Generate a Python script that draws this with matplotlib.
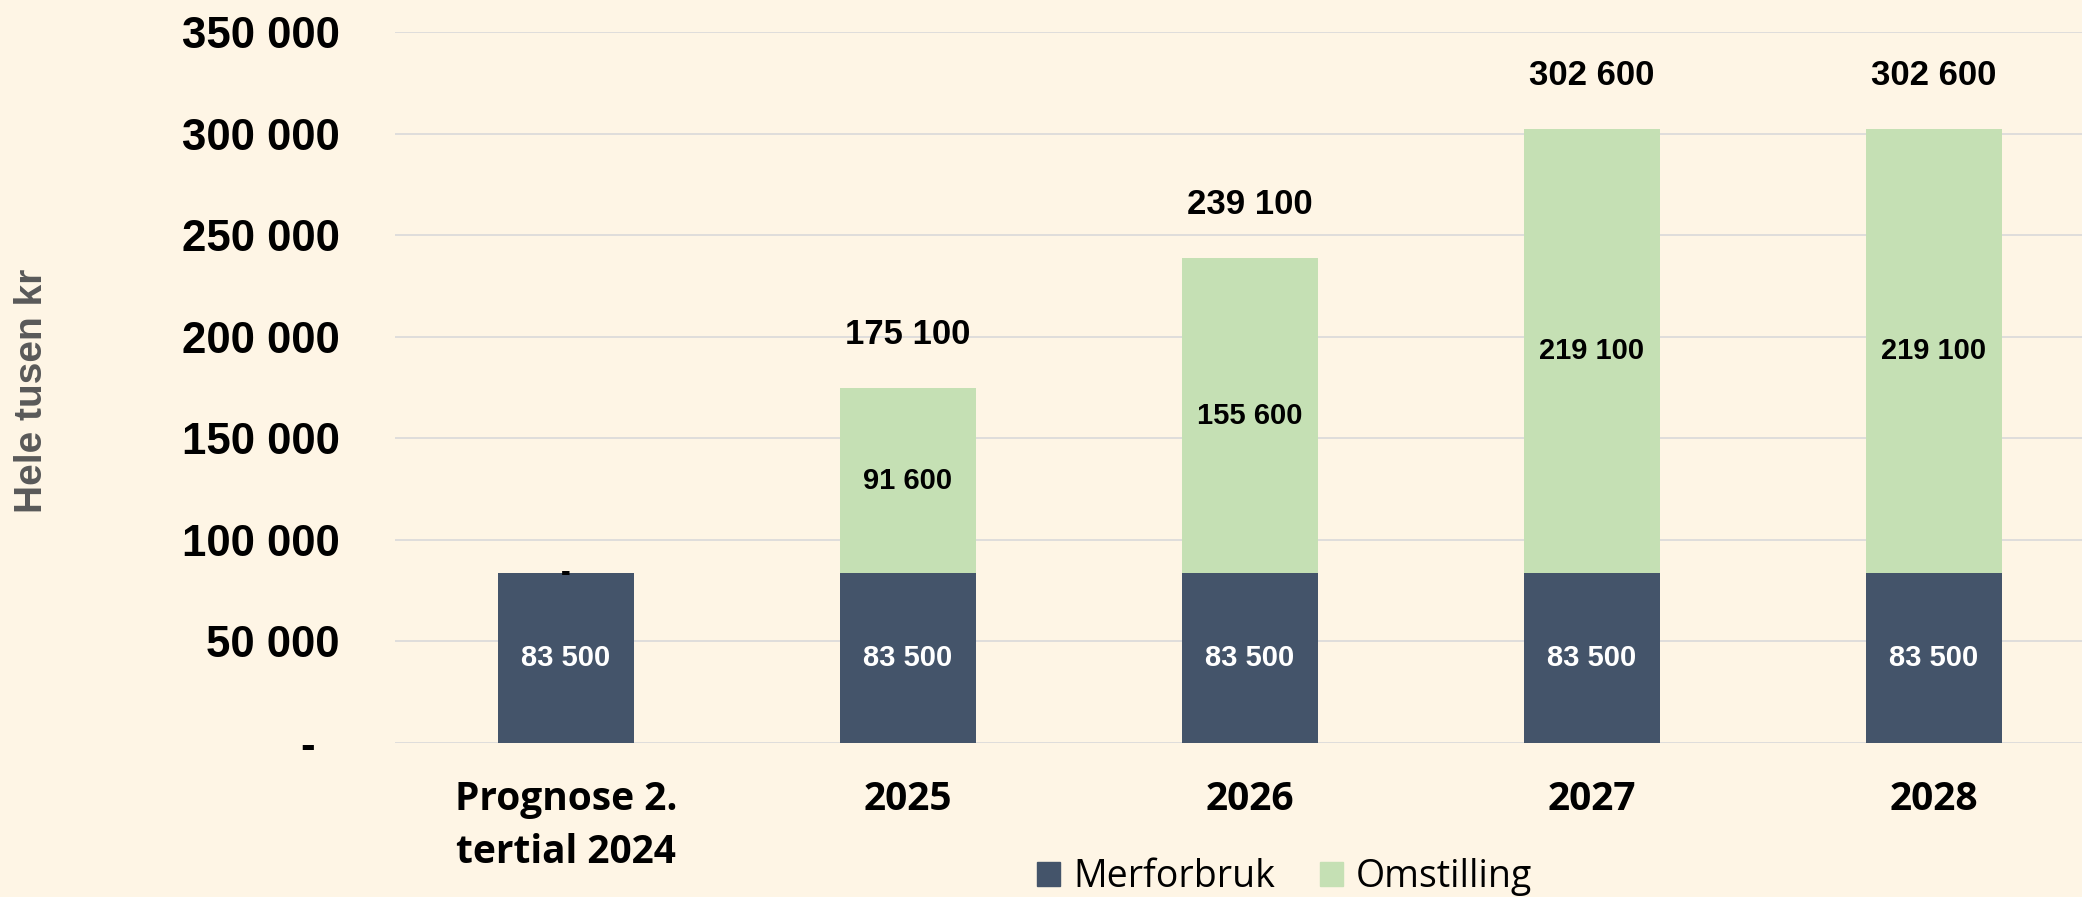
import matplotlib
matplotlib.use('Agg')

import matplotlib.pyplot as plt
from matplotlib.patches import Patch
from matplotlib.ticker import FuncFormatter

# ---------------- DATA ----------------
categories = ["Prognose 2.\ntertial 2024", "2025", "2026", "2027", "2028"]
merforbruk = [83500, 83500, 83500, 83500, 83500]
omstilling = [0, 91600, 155600, 219100, 219100]
show_total = [False, True, True, True, True]
yticks = [0, 50000, 100000, 150000, 200000, 250000, 300000, 350000]

# ---------------- STYLE ----------------
BG = "#FEF5E5"
DARK = "#44546A"
GREEN = "#C5E0B4"
GRID = "#D9D9D9"
NUM_FONT = "Liberation Sans"
TXT_FONT = "Open Sans"


def fmt(v):
    if v == 0:
        return "-"
    return f"{v:,.0f}".replace(",", " ")


fig = plt.figure(figsize=(20.82, 8.97), dpi=100)
fig.patch.set_facecolor(BG)
ax = fig.add_axes([0.1897, 0.1717, 0.8103, 0.7921])
ax.set_facecolor(BG)

x = list(range(len(categories)))
width = 0.4

ax.bar(x, merforbruk, width, color=DARK, zorder=3, label="Merforbruk")
ax.bar(x, omstilling, width, bottom=merforbruk, color=GREEN, zorder=3, label="Omstilling")

# ---------------- LABELS ----------------
for i in x:
    ax.text(i, merforbruk[i] / 2, fmt(merforbruk[i]), ha="center", va="center",
            color="white", fontsize=21, fontweight="bold", family=NUM_FONT, zorder=4)
    ax.text(i, merforbruk[i] + omstilling[i] / 2, fmt(omstilling[i]), ha="center", va="center",
            color="black", fontsize=21, fontweight="bold", family=NUM_FONT, zorder=4)
    if show_total[i]:
        total = merforbruk[i] + omstilling[i]
        ax.annotate(fmt(total), (i, total), xytext=(0, 38), textcoords="offset points",
                    ha="center", va="center", fontsize=25, fontweight="bold",
                    family=NUM_FONT, color="black")

# ---------------- AXES ----------------
ax.set_xlim(-0.5, 4.433)
ax.set_ylim(0, 350000)
ax.set_yticks(yticks)
ax.yaxis.set_major_formatter(FuncFormatter(lambda v, p: "-  " if v == 0 else fmt(v)))
ax.set_xticks(x)
ax.set_xticklabels(categories, linespacing=1.45)
ax.grid(axis="y", color=GRID, linewidth=1.2, zorder=0)
ax.set_axisbelow(True)
for s in ax.spines.values():
    s.set_visible(False)
ax.tick_params(axis="y", length=0, pad=40, labelsize=31.5)
ax.tick_params(axis="x", length=0, pad=27, labelsize=28)
for lab in ax.get_yticklabels():
    lab.set_fontfamily(NUM_FONT)
    lab.set_fontweight("bold")
for lab in ax.get_xticklabels():
    lab.set_fontfamily(TXT_FONT)
    lab.set_fontweight("bold")

fig.text(32 / 2082, 1 - 391 / 897, "Hele tusen kr", rotation=90, ha="center", va="center",
         fontsize=28, fontweight="bold", family=NUM_FONT, color="#595959")

handles = [Patch(color=DARK, label="Merforbruk"), Patch(color=GREEN, label="Omstilling")]
fig.legend(handles=handles, loc="center", bbox_to_anchor=(0.617, 0.0223), ncol=2,
           frameon=False, prop={"family": TXT_FONT, "size": 27},
           handlelength=0.61, handleheight=0.61, handletextpad=0.35, columnspacing=1.2)

plt.savefig("out.png", dpi=100, facecolor=BG)
